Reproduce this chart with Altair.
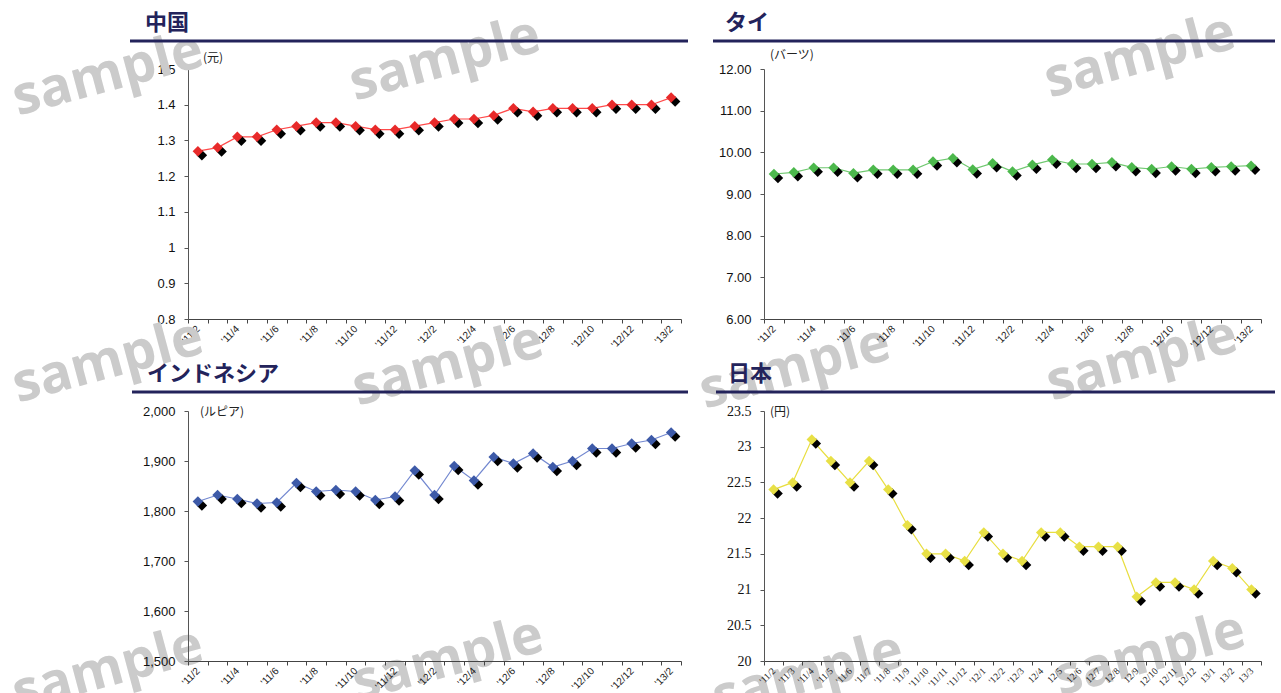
import json
import altair as alt
import pandas as pd

# ---------------- data ----------------
months = ["'11/2", "'11/3", "'11/4", "'11/5", "'11/6", "'11/7", "'11/8", "'11/9", "'11/10",
          "'11/11", "'11/12", "'12/1", "'12/2", "'12/3", "'12/4", "'12/5", "'12/6", "'12/7",
          "'12/8", "'12/9", "'12/10", "'12/11", "'12/12", "'13/1", "'13/2"]
shown = ["'11/2", "'11/4", "'11/6", "'11/8", "'11/10", "'11/12", "'12/2", "'12/4", "'12/6",
         "'12/8", "'12/10", "'12/12", "'13/2"]

jp_months = ["'11/2", "'11/3", "'11/4", "'11/5", "'11/6", "'11/7", "'11/8", "'11/9", "'11/10",
             "'11/11", "'11/12", "'12/1", "'12/2", "'12/3", "12/4", "12/5", "12/6", "12/7",
             "12/8", "12/9", "12/10", "12/11", "12/12", "13/1", "13/2", "13/3"]

china = [1.27, 1.28, 1.31, 1.31, 1.33, 1.34, 1.35, 1.35, 1.34, 1.33, 1.33, 1.34, 1.35,
         1.36, 1.36, 1.37, 1.39, 1.38, 1.39, 1.39, 1.39, 1.40, 1.40, 1.40, 1.42]
thai = [9.48, 9.52, 9.63, 9.63, 9.50, 9.58, 9.58, 9.58, 9.78, 9.86, 9.59, 9.74, 9.54,
        9.70, 9.82, 9.72, 9.72, 9.76, 9.64, 9.60, 9.66, 9.60, 9.64, 9.66, 9.68]
indonesia = [1819, 1832, 1824, 1815, 1817, 1856, 1839, 1842, 1839, 1822, 1829, 1881, 1832,
             1890, 1861, 1908, 1895, 1915, 1888, 1900, 1925, 1925, 1935, 1942, 1957]
japan = [22.4, 22.5, 23.1, 22.8, 22.5, 22.8, 22.4, 21.9, 21.5, 21.5, 21.4, 21.8, 21.5,
         21.4, 21.8, 21.8, 21.6, 21.6, 21.6, 20.9, 21.1, 21.1, 21.0, 21.4, 21.3, 21.0]

cn_ticks = [0.8, 0.9, 1.0, 1.1, 1.2, 1.3, 1.4, 1.5]
th_ticks = [6, 7, 8, 9, 10, 11, 12]
id_ticks = [1500, 1600, 1700, 1800, 1900, 2000]
jp_ticks = [20, 20.5, 21, 21.5, 22, 22.5, 23, 23.5]

# ---------------- layout constants ----------------
W1, W2, H = 493, 497, 250
ORIGINS = {"cn": (188, 69), "th": (764, 69), "id": (188, 411), "jp": (764, 411)}
NAVY = "#23235b"
JP_FONT = "Noto Sans CJK JP"
dummy = pd.DataFrame({"d": [0]})

watermarks = [(108, 75), (445, 60), (1140, 57), (108, 362), (448, 365), (795, 368),
              (1142, 360), (108, 670), (448, 660), (808, 675), (1150, 655)]


def deco_text(text, dx, dy, size, color, font, weight="normal", align="left"):
    return alt.Chart(dummy).mark_text(
        text=text, align=align, baseline="middle", font=font, fontSize=size,
        fontWeight=weight, color=color
    ).encode(x=alt.value(dx), y=alt.value(dy))


def panel(cats, shown_labels, values, domain, ticks, fmt, line_c, mark_c, title,
          unit, width, tick_font, ylab_size, xlab_size, title_dx, title_dy, rule_x1, rule_x2,
          rule_dy, unit_dx, unit_dy, extra=None):
    df = pd.DataFrame({"m": cats, "v": values})
    expr = "indexof(%s, datum.label) >= 0 ? datum.label : ''" % json.dumps(shown_labels)
    x = alt.X("m:N", sort=cats,
              scale=alt.Scale(type="band", paddingInner=0, paddingOuter=0),
              axis=alt.Axis(title=None, labelAngle=315, labelAlign="right",
                            labelBaseline="middle", labelExpr=expr, tickBand="extent",
                            tickSize=4, labelFontSize=xlab_size, labelFont=tick_font,
                            labelColor="#222", labelPadding=4, domainColor="#444",
                            tickColor="#444", grid=False))
    y = alt.Y("v:Q", scale=alt.Scale(domain=domain, nice=False, zero=False),
              axis=alt.Axis(title=None, values=ticks, format=fmt, grid=False, tickSize=4,
                            labelFontSize=ylab_size, labelFont=tick_font, labelColor="#111",
                            labelPadding=9, domainColor="#555", tickColor="#555"))
    base = alt.Chart(df).encode(x=x, y=y)
    line = base.mark_line(color=line_c, strokeWidth=1.2)
    shadow = base.mark_point(shape="diamond", filled=True, size=110, color="#000000",
                             opacity=1, xOffset=4, yOffset=4)
    pts = base.mark_point(shape="diamond", filled=True, size=110, color=mark_c, opacity=1)

    layers = list(extra or [])
    layers.append(deco_text(title, title_dx, title_dy, 22, NAVY, JP_FONT, "bold"))
    layers.append(alt.Chart(dummy).mark_rule(color=NAVY, strokeWidth=3).encode(
        x=alt.value(rule_x1), x2=alt.value(rule_x2), y=alt.value(rule_dy)))
    layers.append(deco_text(unit, unit_dx, unit_dy, 12, "#222", JP_FONT))
    layers += [line, shadow, pts]
    return alt.layer(*layers).properties(width=width, height=H)


# watermarks + pin (drawn in the first panel, behind everything)
ox, oy = ORIGINS["cn"]
extra = []
for (wx, wy) in watermarks:
    extra.append(alt.Chart(dummy).mark_text(
        text="sample", angle=345, align="center", baseline="middle", font="Open Sans",
        fontWeight="bold", fontSize=54, color="#cbcbcb"
    ).encode(x=alt.value(wx - ox), y=alt.value(wy - oy)))
extra.append(alt.Chart(dummy).mark_rule(strokeOpacity=0, color="white").encode(
    x=alt.value(-ox), x2=alt.value(-ox + 1), y=alt.value(-oy)))

p_cn = panel(months, shown, china, [0.8, 1.5], cn_ticks, ".1~f", "#ff4a4a", "#e82a2a",
             "中国", "(元)", W1, "Liberation Sans", 13, 10, -43, -46, -58, 500, -28, 15, -11,
             extra)
p_th = panel(months, shown, thai, [6, 12], th_ticks, ".2f", "#70c870", "#4cb84c",
             "タイ", "(バーツ)", W2, "Liberation Sans", 13, 10, -39, -46, -51, 511, -28, 6, -14)
p_id = panel(months, shown, indonesia, [1500, 2000], id_ticks, ",.0f", "#7388d0", "#3d5aa8",
             "インドネシア", "(ルピア)", W1, "Liberation Sans", 13, 10, -41, -37, -56, 500, -19,
             12, 1)
p_jp = panel(jp_months, jp_months, japan, [20, 23.5], jp_ticks, ".1~f", "#e8de40",
             "#e8e046", "日本", "(円)", W2, "Liberation Serif", 14, 9.5, -36, -37, -48, 511, -19,
             6, 1)

chart = alt.concat(
    p_cn, p_th, p_id, p_jp, columns=2, spacing={"row": 92, "column": 83}, bounds="flush",
    padding=0, background="white"
).configure_view(stroke=None)

chart.save("out.html", embed_options={"renderer": "svg", "actions": False})
